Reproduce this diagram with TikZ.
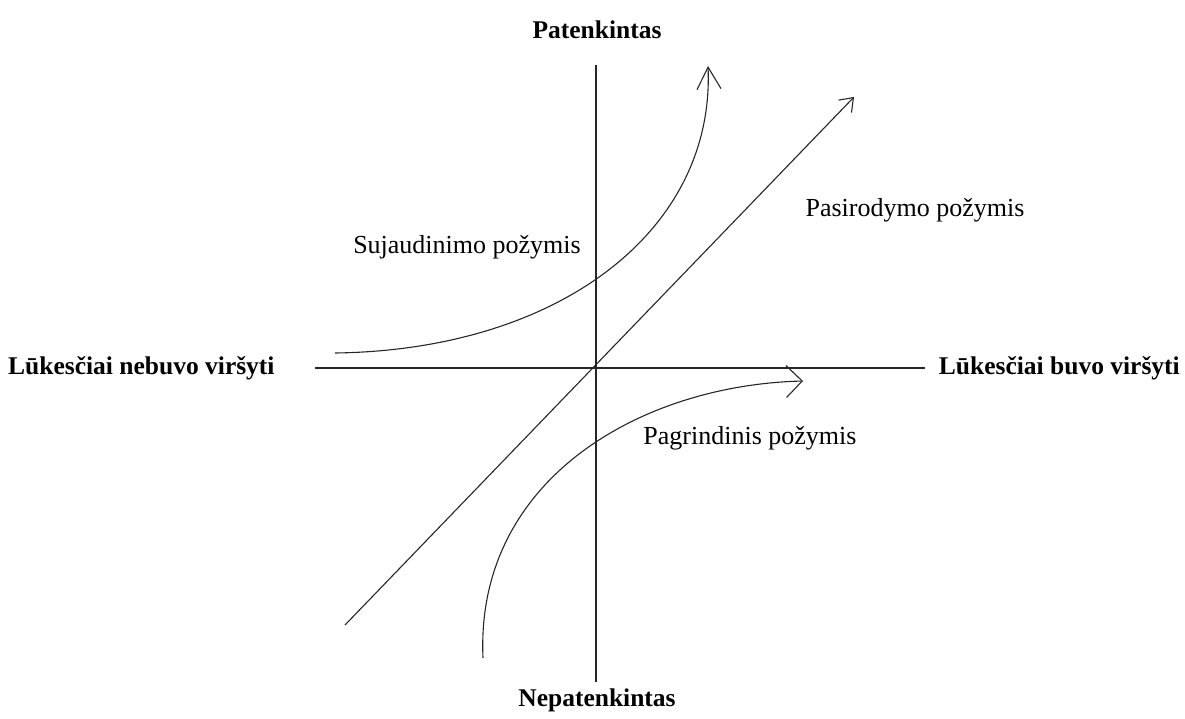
\documentclass[tikz,border=0pt]{standalone}
\usepackage{fontspec}
\setmainfont{Liberation Serif}
\usetikzlibrary{arrows.meta}
\begin{document}
\begin{tikzpicture}[x=1pt,y=-1pt,
  axis/.style={line width=1.1pt,draw=black!85},
  lbl/.style={font=\fontsize{26}{30}\selectfont,inner sep=0pt},
  blbl/.style={font=\fontsize{25.5}{30}\selectfont\bfseries,inner sep=0pt}]
\path[use as bounding box] (0,0) rectangle (1185,718);
% axes endpoints
\coordinate (vt) at (596,65);
\coordinate (vb) at (596,682);
\coordinate (hl) at (315,368);
\coordinate (hr) at (925,368);
\draw[axis] (vt) -- (vb);
\draw[axis] (hl) -- (hr);
% diagonal
\coordinate (d0) at (345,625);
\coordinate (d1) at (854,97);
\draw[axis,-{Straight Barb[length=12pt,width=18pt,line width=1.1pt]}] (d0) -- (d1);
% upper curve
\coordinate (u0) at (335,353);
\coordinate (u1) at (708,66);
\draw[axis,-{Straight Barb[length=22pt,width=24pt,line width=1.1pt]}] (u0) .. controls (560,350) and (715,230) .. (u1);
% lower curve
\coordinate (l0) at (483,658);
\coordinate (l1) at (803,381);
\draw[axis,-{Straight Barb[length=16pt,width=32pt,line width=1.1pt]}] (l0) .. controls (475,480) and (640,385) .. (l1);
% labels
\node[blbl] (top) at (597,30) {Patenkintas};
\node[blbl] (bot) at (597,700) {Nepatenkintas};
\node[blbl,anchor=west] (left) at (8,368) {Lūkesčiai nebuvo viršyti};
\node[blbl,anchor=east] (right) at (1180,368) {Lūkesčiai buvo viršyti};
\node[lbl] (suj) at (467,247) {Sujaudinimo požymis};
\node[lbl] (pas) at (915,210) {Pasirodymo požymis};
\node[lbl] (pag) at (750,438) {Pagrindinis požymis};
\end{tikzpicture}
\end{document}
